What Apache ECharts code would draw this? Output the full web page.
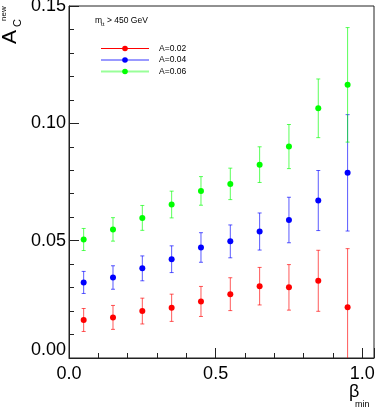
<!DOCTYPE html>
<html>
<head>
<meta charset="utf-8">
<script src="https://cdn.jsdelivr.net/npm/echarts@6.0.0/dist/echarts.min.js"></script>
<style>
html, body { margin: 0; padding: 0; background: #fff; }
#main { width: 375px; height: 409px; }
</style>
</head>
<body>
<div id="main"></div>
<script>
// beta_min bins
var betaMin = [0.05, 0.15, 0.25, 0.35, 0.45, 0.55, 0.65, 0.75, 0.85, 0.95];
// A=0.02
var redVal = [0.0162, 0.0173, 0.0200, 0.0214, 0.0241, 0.0272, 0.0306, 0.0301, 0.0329, 0.0216];
var redErr = [0.0049, 0.0051, 0.0055, 0.0058, 0.0064, 0.0070, 0.0080, 0.0097, 0.0130, 0.0250];
// A=0.04
var blueVal = [0.0322, 0.0343, 0.0382, 0.0421, 0.0471, 0.0497, 0.0539, 0.0588, 0.0671, 0.0789];
var blueErr = [0.0047, 0.0050, 0.0053, 0.0057, 0.0063, 0.0070, 0.0079, 0.0097, 0.0128, 0.0248];
// A=0.06
var greenVal = [0.0505, 0.0548, 0.0597, 0.0654, 0.0712, 0.0742, 0.0824, 0.0901, 0.1064, 0.1164];
var greenErr = [0.0047, 0.0050, 0.0053, 0.0057, 0.0061, 0.0067, 0.0076, 0.0094, 0.0125, 0.0244];
var seriesNames = ['A=0.02', 'A=0.04', 'A=0.06'];

var FONT = "'Liberation Sans', Arial, Helvetica, sans-serif";

function points(vals) {
	return betaMin.map(function (b, i) { return [b, vals[i]]; });
}
function bars(vals, errs) {
	return betaMin.map(function (b, i) { return [b, vals[i] - errs[i], vals[i] + errs[i]]; });
}

// vertical error bar with little caps, clipped to the frame
function errorBar(color) {
	return function (params, api) {
		var x = api.value(0);
		var top = api.coord([x, api.value(2)]);
		var bot = api.coord([x, api.value(1)]);
		var cs = params.coordSys;
		var yMin = cs.y, yMax = cs.y + cs.height;
		var y1 = Math.max(top[1], yMin), y2 = Math.min(bot[1], yMax);
		var st = { stroke: color, lineWidth: 1 };
		var kids = [{ type: 'line', shape: { x1: top[0], y1: y1, x2: top[0], y2: y2 }, style: st }];
		if (top[1] >= yMin) kids.push({ type: 'line', shape: { x1: top[0] - 2, y1: top[1], x2: top[0] + 2, y2: top[1] }, style: st });
		if (bot[1] <= yMax) kids.push({ type: 'line', shape: { x1: bot[0] - 2, y1: bot[1], x2: bot[0] + 2, y2: bot[1] }, style: st });
		return { type: 'group', children: kids };
	};
}

var dom = document.getElementById('main');
var myChart = echarts.init(dom, null, { renderer: 'canvas' });
var option = {
	animation: false,
	backgroundColor: '#fff',
	grid: {
		left: 69, right: 1, top: 6, bottom: 51,
		show: true, borderColor: '#222', borderWidth: 1,
		outerBoundsMode: 'none'
	},
	legend: {
		orient: 'vertical',
		left: 100, top: 44,
		padding: 0,
		itemWidth: 48, itemHeight: 7, itemGap: 2.5,
		textStyle: { fontFamily: FONT, fontSize: 8.5, color: '#000', padding: [0, 0, 0, 5] },
		data: [
			{ name: seriesNames[0], lineStyle: { width: 1, color: '#ff0000', opacity: 1 } },
			{ name: seriesNames[1], lineStyle: { width: 2, color: 'rgba(0,0,255,0.4)', opacity: 1 } },
			{ name: seriesNames[2], lineStyle: { width: 2, color: 'rgba(0,255,0,0.4)', opacity: 1 } }
		]
	},
	xAxis: [{
		type: 'value', position: 'bottom',
		min: 0, max: 1.04, interval: 0.5,
		axisLine: { lineStyle: { color: '#222', width: 1 } },
		axisTick: { inside: true, length: 10, lineStyle: { color: '#222' } },
		splitLine: { show: false },
		axisLabel: {
			fontFamily: FONT, fontSize: 18, color: '#000', margin: 7,
			formatter: function (v) {
				return Math.abs(v * 2 - Math.round(v * 2)) < 1e-6 ? v.toFixed(1) : '';
			}
		}
	}, {
		type: 'value', position: 'bottom',
		min: 0, max: 1.04, interval: 0.1,
		axisLine: { show: false },
		axisTick: { inside: true, length: 5, lineStyle: { color: '#222' } },
		splitLine: { show: false },
		axisLabel: { show: false }
	}],
	yAxis: {
		type: 'value',
		min: 0, max: 0.15, interval: 0.05,
		axisLine: { show: true, lineStyle: { color: '#222', width: 1 } },
		axisTick: { show: true, inside: true, length: 10, lineStyle: { color: '#222' } },
		minorTick: { show: true, splitNumber: 5, length: 5, lineStyle: { color: '#222' } },
		splitLine: { show: false },
		axisLabel: {
			fontFamily: FONT, fontSize: 18, color: '#000', margin: 3,
			formatter: function (v) {
				if (v === 0) return '{z|0.00}';
				return v.toFixed(2);
			},
			rich: { z: { fontFamily: FONT, fontSize: 18, color: '#000', padding: [0, 0, 16, 0] } }
		}
	},
	graphic: [
		{ type: 'text', x: 0, y: 44, rotation: Math.PI / 2,
			style: { text: 'A', fontFamily: FONT, fontSize: 21, fill: '#000', textVerticalAlign: 'top' } },
		{ type: 'text', x: 12, y: 27, rotation: Math.PI / 2,
			style: { text: 'C', fontFamily: FONT, fontSize: 11, fill: '#000', textVerticalAlign: 'top' } },
		{ type: 'text', x: 0, y: 21, rotation: Math.PI / 2,
			style: { text: 'new', fontFamily: FONT, fontSize: 8, fill: '#000', textVerticalAlign: 'top' } },
		{ type: 'text', x: 349, y: 383,
			style: { text: 'β', fontFamily: FONT, fontSize: 18, fill: '#000', textVerticalAlign: 'top' } },
		{ type: 'text', x: 355, y: 400,
			style: { text: 'min', fontFamily: FONT, fontSize: 9, fill: '#000', textVerticalAlign: 'top' } },
		{ type: 'text', x: 95, y: 16,
			style: { text: 'm', fontFamily: FONT, fontSize: 8.5, fill: '#000', textVerticalAlign: 'top' } },
		{ type: 'text', x: 101, y: 21,
			style: { text: 'tt', fontFamily: FONT, fontSize: 6, fill: '#000', textVerticalAlign: 'top' } },
		{ type: 'text', x: 107, y: 16,
			style: { text: '> 450 GeV', fontFamily: FONT, fontSize: 8.5, fill: '#000', textVerticalAlign: 'top' } }
	],
	series: [
		{ type: 'custom', name: 'errRed', renderItem: errorBar('rgba(255,0,0,0.65)'), data: bars(redVal, redErr), z: 2 },
		{ type: 'custom', name: 'errBlue', renderItem: errorBar('rgba(0,0,255,0.65)'), data: bars(blueVal, blueErr), z: 2 },
		{ type: 'custom', name: 'errGreen', renderItem: errorBar('rgba(0,255,0,0.65)'), data: bars(greenVal, greenErr), z: 2 },
		{ type: 'line', name: seriesNames[0], data: points(redVal), symbol: 'circle', symbolSize: 6,
			itemStyle: { color: '#ff0000' }, lineStyle: { width: 1, color: '#ff0000', opacity: 0 }, z: 3 },
		{ type: 'line', name: seriesNames[1], data: points(blueVal), symbol: 'circle', symbolSize: 6,
			itemStyle: { color: '#0000ff' }, lineStyle: { width: 1, color: '#0000ff', opacity: 0 }, z: 3 },
		{ type: 'line', name: seriesNames[2], data: points(greenVal), symbol: 'circle', symbolSize: 6,
			itemStyle: { color: '#00ff00' }, lineStyle: { width: 1, color: '#00ff00', opacity: 0 }, z: 3 }
	]
};
if (option && typeof option === "object") {
	myChart.setOption(option, true);
}
</script>
</body>
</html>
